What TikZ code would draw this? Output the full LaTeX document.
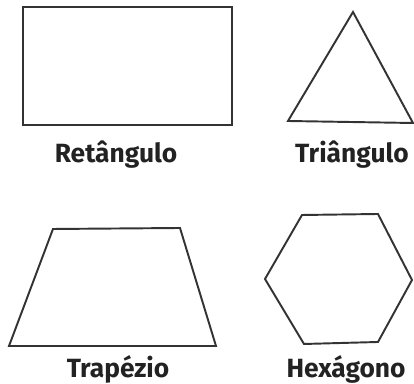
\documentclass[tikz,border=0pt]{standalone}
\usepackage{fontspec}
\setmainfont{Fira Sans}
\usepackage{xcolor}
\usetikzlibrary{positioning, calc}
\definecolor{shapeline}{RGB}{51, 51, 51}
\definecolor{labeltext}{RGB}{34, 34, 34}
\tikzset{
  figline/.style={draw=shapeline, line width=1.1pt, line join=miter},
  figlabel/.style={font=\fontsize{15}{17}\selectfont\bfseries, text=labeltext, inner sep=0pt}
}
\begin{document}
\begin{tikzpicture}[x=0.02cm, y=-0.02cm]
  \useasboundingbox (0,0) rectangle (414,384);

  % Shape 1: Rectangle
  \draw[figline] (23,7) rectangle (232,125);
  \node[figlabel] (retlabel) at (116,155) {Retângulo};

  % Shape 2: Triangle
  \coordinate (triA) at (353,12);
  \coordinate (triB) at (288,121);
  \coordinate (triC) at (413,123);
  \draw[figline] (triA) -- (triB) -- (triC) -- cycle;
  \node[figlabel] (trilabel) at (352,155) {Triângulo};

  % Shape 3: Trapezoid
  \coordinate (trapA) at (53,229);
  \coordinate (trapB) at (180,228);
  \coordinate (trapC) at (216,346);
  \coordinate (trapD) at (9,346);
  \draw[figline] (trapA) -- (trapB) -- (trapC) -- (trapD) -- cycle;
  \node[figlabel] (traplabel) at (118,369) {Trapézio};

  % Shape 4: Hexagon
  \coordinate (hexA) at (302,215);
  \coordinate (hexB) at (378,214);
  \coordinate (hexC) at (412,280);
  \coordinate (hexD) at (378,342);
  \coordinate (hexE) at (304,344);
  \coordinate (hexF) at (265,279);
  \draw[figline] (hexA) -- (hexB) -- (hexC) -- (hexD) -- (hexE) -- (hexF) -- cycle;
  \node[figlabel] (hexlabel) at (346,369) {Hexágono};

\end{tikzpicture}
\end{document}
